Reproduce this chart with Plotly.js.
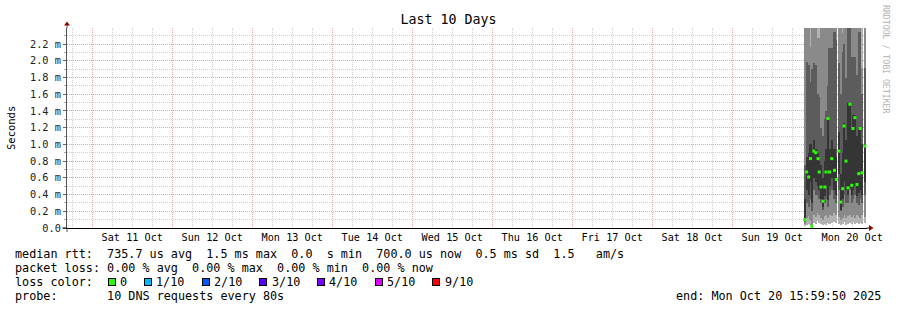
<!DOCTYPE html>
<html><head><meta charset="utf-8">
<script src="https://cdn.plot.ly/plotly-3.0.1.min.js"></script>
<style>html,body{margin:0;padding:0;background:#fff;} #chart{width:897px;height:310px;}</style>
</head><body><div id="chart"></div>
<script>
// ---- data (values in milliseconds) ----
const times = ['2025-10-19 21:43','2025-10-19 22:19','2025-10-19 22:55','2025-10-19 23:28','2025-10-19 23:51',
  '2025-10-20 00:27','2025-10-20 01:03','2025-10-20 01:43','2025-10-20 02:04','2025-10-20 02:37',
  '2025-10-20 03:13','2025-10-20 03:45','2025-10-20 04:07','2025-10-20 04:43','2025-10-20 05:10',
  '2025-10-20 05:51','2025-10-20 06:40','2025-10-20 07:12','2025-10-20 07:57','2025-10-20 08:33',
  '2025-10-20 09:07','2025-10-20 09:31','2025-10-20 10:07','2025-10-20 10:43','2025-10-20 11:17',
  '2025-10-20 11:51','2025-10-20 12:13','2025-10-20 12:47','2025-10-20 13:25','2025-10-20 13:57',
  '2025-10-20 14:22','2025-10-20 14:55','2025-10-20 15:45'];
const medianMs = [0.10,0.67,0.61,0.83,0.02,0.92,0.90,0.83,0.67,0.49,0.32,0.49,0.67,1.31,0.67,0.83,0.69,0.58,0.92,0.31,0.47,1.22,0.80,0.48,1.48,0.51,1.19,1.32,0.52,0.65,1.19,0.66,0.98];
const minMs    = [0.02,0.04,0.05,0.03,0.01,0.06,0.05,0.08,0.06,0.05,0.04,0.05,0.03,0.06,0.05,0.06,0.07,0.06,0.05,0.04,0.05,0.07,0.04,0.05,0.06,0.05,0.07,0.05,0.06,0.05,0.06,0.05,0.06];
const maxMs    = [2.5,2.5,2.5,2.5,2.5,2.5,2.5,2.5,2.5,2.5,2.5,2.5,2.5,2.5,2.5,2.5,2.5,2.5,2.5,2.5,2.5,2.5,2.5,2.5,2.5,2.5,2.5,2.5,2.5,2.5,2.5,2.5,2.5];
const band2Lo  = [0.05,0.12,0.14,0.10,0.02,0.15,0.13,0.18,0.15,0.12,0.10,0.14,0.16,0.12,0.15,0.14,0.18,0.16,0.13,0.10,0.12,0.15,0.12,0.14,0.16,0.13,0.15,0.12,0.15,0.14,0.12,0.15,0.13];
const band2Hi  = [2.5,2.5,2.5,2.16,2.5,2.5,2.5,2.27,2.27,2.5,2.5,2.5,2.5,2.5,2.5,2.5,2.5,2.5,2.5,2.5,2.33,2.5,2.5,2.5,2.5,2.5,2.5,2.5,2.5,2.5,2.5,1.91,2.5];
const band3Lo  = [0.07,0.30,0.25,0.35,0.20,0.45,0.40,0.40,0.35,0.30,0.22,0.30,0.35,0.25,0.40,0.45,0.35,0.30,0.45,0.20,0.25,0.40,0.30,0.30,0.45,0.30,0.35,0.40,0.30,0.28,0.35,0.30,0.40];
const band3Hi  = [0.75,1.98,1.95,1.75,1.90,1.97,1.95,1.60,1.57,1.20,1.10,1.30,1.40,1.70,2.15,2.15,2.34,2.25,1.97,1.60,2.10,2.20,1.80,2.39,2.39,2.04,2.05,2.05,1.83,2.34,2.34,1.60,1.91];
const band4Lo  = [0.09,0.45,0.40,0.55,0.30,0.60,0.55,0.50,0.45,0.35,0.25,0.38,0.50,0.33,0.50,0.60,0.45,0.40,0.65,0.22,0.35,0.55,0.45,0.40,0.48,0.40,0.45,0.50,0.38,0.42,0.45,0.40,0.55];
const band4Hi  = [0.35,0.85,0.90,1.00,0.95,1.05,0.95,0.90,0.80,0.75,0.60,0.80,0.95,1.33,0.95,1.05,0.95,0.85,1.15,0.65,0.90,1.25,1.05,1.50,1.50,1.20,1.35,1.35,1.10,1.20,1.20,1.00,1.00];

const yTickVals = [0,0.2,0.4,0.6,0.8,1.0,1.2,1.4,1.6,1.8,2.0,2.2];
const yTickText = ['0.0','0.2 m','0.4 m','0.6 m','0.8 m','1.0 m','1.2 m','1.4 m','1.6 m','1.8 m','2.0 m','2.2 m'];
const yMinorVals = [0.1,0.3,0.5,0.7,0.9,1.1,1.3,1.5,1.7,1.9,2.1,2.3];

const statLine  = 'median rtt:  735.7 us avg  1.5 ms max  0.0  s min  700.0 us now  0.5 ms sd  1.5   am/s';
const lossLine  = 'packet loss: 0.00 % avg  0.00 % max  0.00 % min  0.00 % now';
const colorHead = 'loss color:';
const lossLabels = ['0','1/10','2/10','3/10','4/10','5/10','9/10'];
const lossColors = ['#26ff00','#00b8ff','#0059ff','#5e00ff','#7e00ff','#dd00ff','#ff0000'];
const probeLine = 'probe:       10 DNS requests every 80s';
const endLine   = 'end: Mon Oct 20 15:59:50 2025';

// ---- helpers ----
const MONO = 'DejaVu Sans Mono';
const L = 67, T = 28, W = 800, H = 200;
const px = x => (x - L) / W;
const py = y => (T + H - y) / H;
const nb = s => s.replace(/ /g, '\u00a0');
const diff = (a, b) => a.map((v, i) => v - b[i]);

const barW = 2500000;
function band(lo, hi, color) {
  return {type:'bar', x: times, base: lo, y: diff(hi, lo), width: barW,
    marker:{color: color, line:{width:0}}, hoverinfo:'skip', showlegend:false};
}
const traces = [
  band(minMs, maxMs, '#b2b2b2'),
  band(band2Lo, band2Hi, '#8a8a8a'),
  band(band3Lo, band3Hi, '#5c5c5c'),
  band(band4Lo, band4Hi, '#353535'),
  {type:'scatter', mode:'markers', x: times, y: medianMs,
   marker:{symbol:'square', size:3, color:'#26ff00', line:{width:0}}, showlegend:false, hoverinfo:'skip'}
];

const LW = 11.78, CW = LW * 0.6021, PADX = 3;
const ann = [];
function txt(s, x, y, opts) {
  ann.push(Object.assign({text: nb(s), xref:'paper', yref:'paper', x: px(x - PADX), y: py(y),
    xanchor:'left', yanchor:'middle', showarrow:false,
    font:{family: MONO, size: LW, color:'#000'}}, opts || {}));
}
txt(statLine, 16, 254.3);
txt(lossLine, 16, 268.3);
txt(colorHead, 16, 282.3);
let bx = 107.6;
lossLabels.forEach((lab, i) => {
  ann.push({text:'\u00a0', xref:'paper', yref:'paper', x: px(bx), y: py(282.2), xanchor:'left', yanchor:'middle',
    showarrow:false, width:6, height:6, borderpad:0, bgcolor: lossColors[i], bordercolor:'#000', borderwidth:1,
    font:{family: MONO, size: 4}});
  const lx = bx + 13.4;
  txt(lab, lx, 282.3);
  bx = lx + (lab.length + 2) * CW + 1.7;
});
txt(probeLine, 16, 296);
ann.push({text: nb(endLine), xref:'paper', yref:'paper', x: px(883), y: py(296),
  xanchor:'right', yanchor:'middle', showarrow:false, font:{family: MONO, size: LW, color:'#000'}});
// y axis title
ann.push({text:'Seconds', xref:'paper', yref:'paper', x: px(11), y: 0.5, textangle:-90, showarrow:false,
  xanchor:'center', yanchor:'middle', font:{family: MONO, size: 10.5, color:'#000'}});
// watermark
ann.push({text: nb('RRDTOOL / TOBI OETIKER'), xref:'paper', yref:'paper', x: px(886), y: py(59), textangle:90,
  showarrow:false, xanchor:'center', yanchor:'middle', font:{family: MONO, size: 8.2, color:'#b4b4b4'}});

const AR = '#990000';
const shapes = [
  {type:'line', xref:'paper', yref:'paper', xsizemode:'pixel', ysizemode:'pixel', xanchor:0, yanchor:1,
   x0:0, x1:0, y0:0, y1:3, line:{color:'#555', width:1}},
  {type:'line', xref:'paper', yref:'paper', xsizemode:'pixel', ysizemode:'pixel', xanchor:0, yanchor:0,
   x0:0, x1:0, y0:0, y1:-4, line:{color:'#555', width:1}},
  {type:'path', xref:'paper', yref:'paper', xsizemode:'pixel', ysizemode:'pixel', xanchor:0, yanchor:1,
   path:'M -3 2.5 L 3 2.5 L 0 6.5 Z', fillcolor: AR, line:{width:0}},
  {type:'line', xref:'paper', yref:'paper', xsizemode:'pixel', ysizemode:'pixel', xanchor:0, yanchor:0,
   x0:-4.5, x1:0, y0:0, y1:0, line:{color:'#000', width:1}},
  {type:'line', xref:'paper', yref:'paper', xsizemode:'pixel', ysizemode:'pixel', xanchor:1, yanchor:0,
   x0:0, x1:2.5, y0:0, y1:0, line:{color:'#000', width:1}},
  {type:'path', xref:'paper', yref:'paper', xsizemode:'pixel', ysizemode:'pixel', xanchor:1, yanchor:0,
   path:'M 2 3 L 2 -3 L 6.5 0 Z', fillcolor: AR, line:{width:0}}
];

const MAJ = '#f2a0a0', MIN = '#cfcfcf', DASH = '1px,1px';
const layout = {
  width: 897, height: 310,
  margin:{l:L, r:897-L-W, t:T, b:310-T-H, pad:0},
  paper_bgcolor:'#fff', plot_bgcolor:'#fff',
  title:{text:'Last 10 Days', font:{family: MONO, size:13.3, color:'#000'}, x:0.5, xref:'container',
    y: 1 - 19/310, yref:'container', yanchor:'middle', xanchor:'center'},
  barmode:'overlay', bargap:0,
  showlegend:false,
  xaxis:{type:'date', range:['2025-10-10 16:25','2025-10-20 16:25'], fixedrange:true,
    tickmode:'linear', tick0:'2025-10-11', dtick:86400000, ticklabelmode:'period', tickformat:'%a %d %b',
    showgrid:true, gridcolor: MAJ, griddash: DASH, gridwidth:1,
    minor:{tickmode:'linear', tick0:'2025-10-11', dtick:21600000, showgrid:true, gridcolor: MIN, griddash: DASH, gridwidth:1},
    ticks:'', showline:true, linecolor:'#000', linewidth:1, zeroline:false,
    tickfont:{family: MONO, size:10.2, color:'#000'}},
  yaxis:{range:[0, 2.392], fixedrange:true,
    tickmode:'array', tickvals: yTickVals, ticktext: yTickText,
    showgrid:true, gridcolor: MAJ, griddash: DASH, gridwidth:1,
    minor:{tickmode:'array', tickvals: yMinorVals, showgrid:true, gridcolor: MIN, griddash: DASH, gridwidth:1,
      ticks:'outside', ticklen:2, tickcolor:'#aaa'},
    ticks:'outside', ticklen:3, tickcolor:'#666',
    showline:true, linecolor:'#555', linewidth:1, zeroline:false,
    tickfont:{family: MONO, size:10.3, color:'#222'}},
  annotations: ann,
  shapes: shapes
};
Plotly.newPlot('chart', traces, layout, {staticPlot:true, displayModeBar:false});
</script></body></html>
